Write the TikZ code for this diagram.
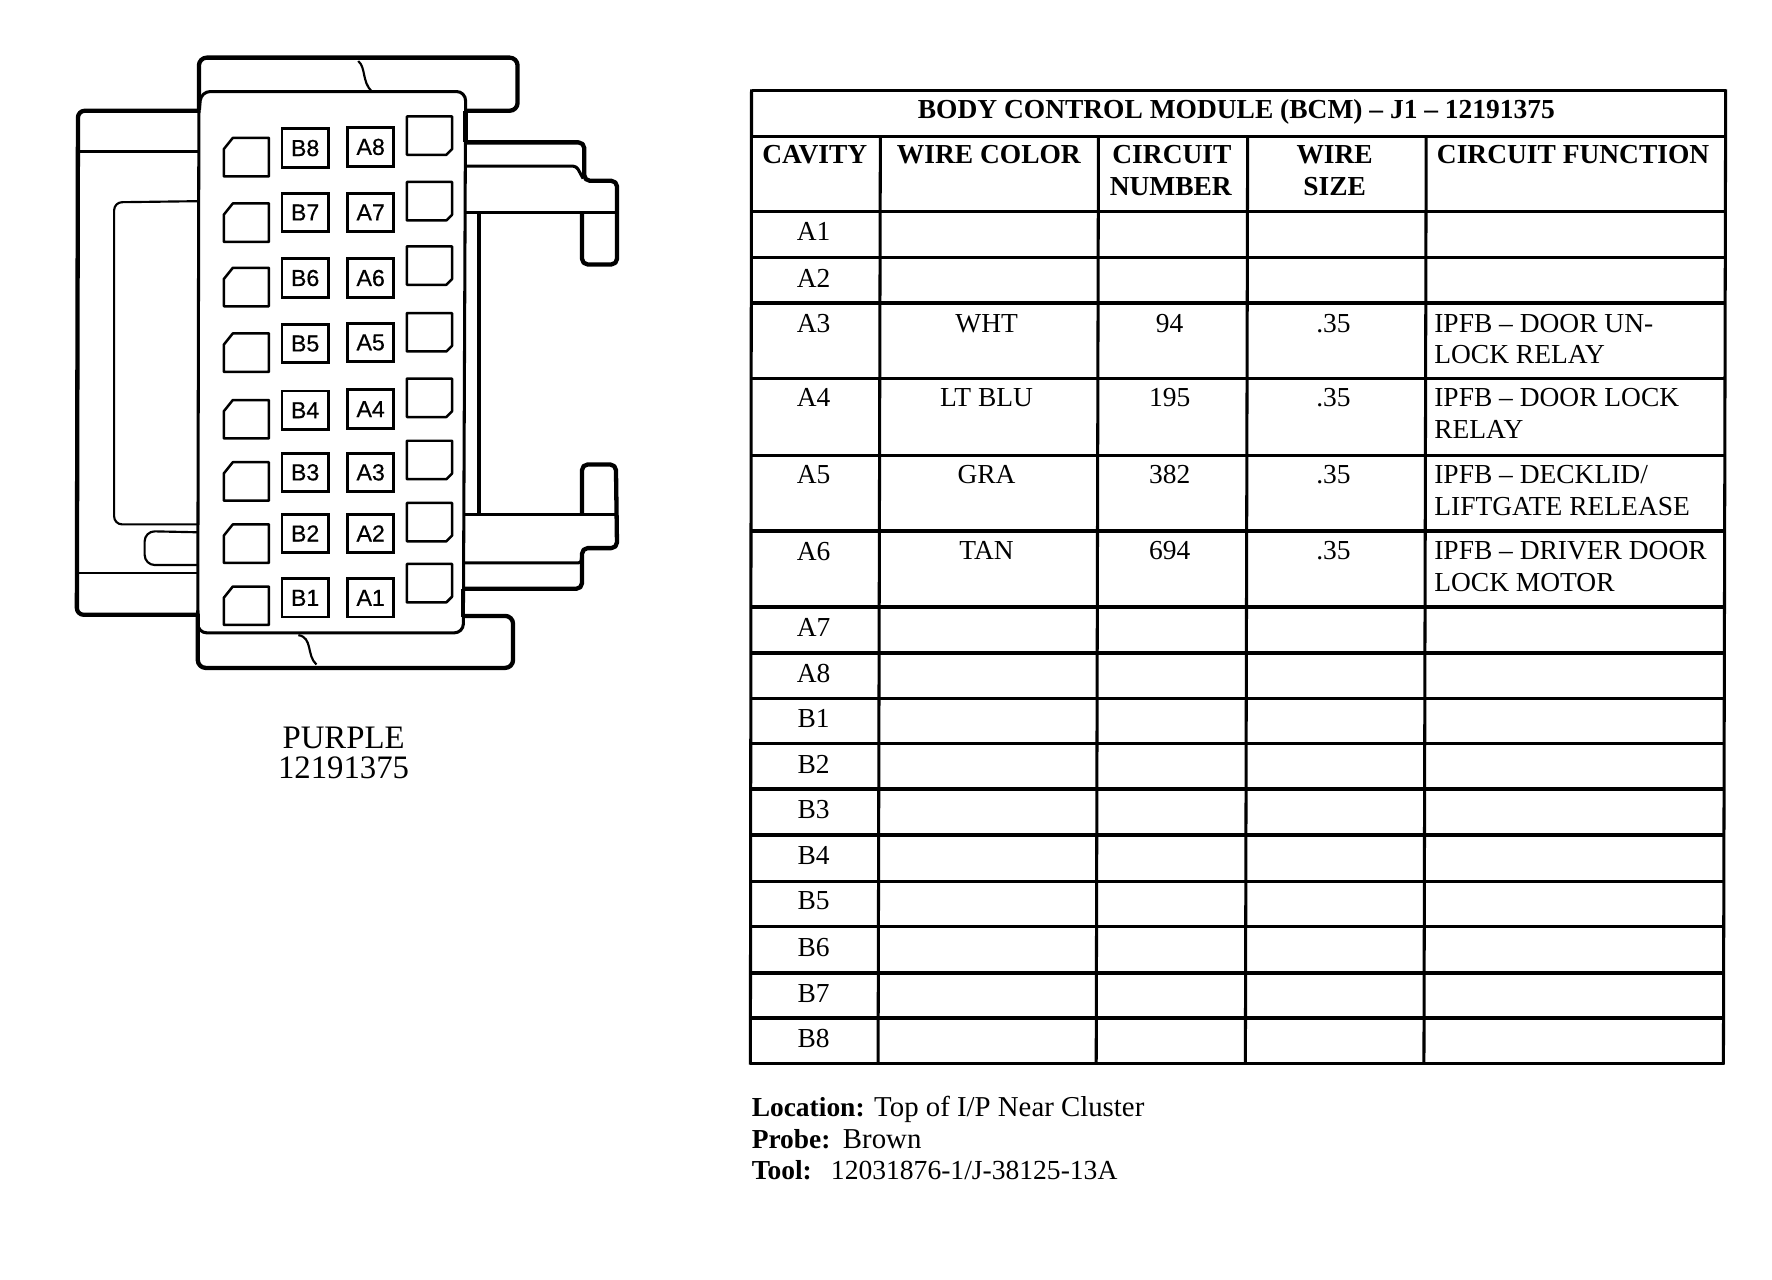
\documentclass[tikz,border=0pt]{standalone}
\usepackage{fontspec}
\setmainfont{Liberation Serif}
\newfontfamily\pinfont[FakeBold=0.5]{Liberation Sans}
\newcommand{\notehead}[1]{{\fontsize{24.3}{28}\selectfont\bfseries #1}}
\tikzset{
	heavy/.style={line width=3.8pt,line join=round},
	medium/.style={line width=2.7pt,line join=round},
	light/.style={line width=1.9pt,line join=round},
	rowline/.style={line width=3.1pt},
	pinbox/.style={draw,line width=2.5pt,inner sep=0pt,minimum width=41pt,minimum height=34pt,font=\pinfont\fontsize{20.5}{21}\selectfont},
	blankpin/.style={line width=2.2pt,line join=round},
	cell/.style={anchor=base,inner sep=0pt,font=\fontsize{24.3}{28}\selectfont},
	headcell/.style={cell,font=\fontsize{24.3}{28}\selectfont\bfseries},
	funccell/.style={cell,anchor=base west},
	notecell/.style={anchor=base west,inner sep=0pt,font=\fontsize{25.5}{28}\selectfont}
}
\begin{document}
\begin{tikzpicture}[x=1pt,y=-1pt]
\useasboundingbox (0,0) rectangle (1568,1132.6);
% connector housing
\draw[heavy,rounded corners=7pt] (176,97)--(176,51)--(458,51)--(458,98)--(412,98);
\draw[light] (317,54) .. controls (324,60) and (320,72) .. (329,81);
\draw[heavy,rounded corners=6pt] (176,98)--(69,98)--(68,544)--(176,544);
\draw[light] (70,134)--(176,134);
\draw[light] (69,507)--(175,507);
\draw[light,rounded corners=7pt] (176,178)--(101,179)--(101,464)--(175,464);
\draw[light,rounded corners=9pt] (175,471)--(128,470)--(128,500)--(175,500);
\draw[heavy] (412,98)--(412,126);
\draw[heavy,rounded corners=5pt] (412,126)--(517,126)--(517,160)--(546,160)--(546,234)--(515,234)--(515,189);
\draw[medium,rounded corners=3pt] (412,147)--(510,147)--(516,158);
\draw[light] (412,188)--(424,188);
\draw[medium] (424,188)--(546,188);
\draw[heavy] (424,187)--(424,456);
\draw[medium] (410,455)--(546,455);
\draw[heavy,rounded corners=5pt] (515,455)--(515,411)--(545,411)--(546,485)--(515,485)--(515,521)--(411,521);
\draw[medium,rounded corners=2pt] (411,498)--(514,498)--(515,490);
\draw[heavy] (410,521)--(410,546);
\draw[heavy,rounded corners=7pt] (409,545)--(454,545)--(454,591)--(175,591)--(175,543);
\draw[light] (264,562) .. controls (277,564) and (271,580) .. (280,588);
\draw[medium,rounded corners=8pt] (176,100)--(178,81)--(412,81)--(410,560)--(175,560)--(175,540);
\draw[medium] (176,98)--(175,545);
% pins
\foreach \n \ya \yb \yl \yr in {8/130/131/139/120,7/188/188/197/178,6/246/246/254/235,5/303/304/312/294,4/362/363/371/352,3/418/418/426/407,2/472/472/481/462,1/529/529/536/516}{
	\node[pinbox,name=pinb\n] at (270,\yb) {B\n};
	\node[pinbox,name=pina\n] at (328,\ya) {A\n};
	\draw[blankpin,shift={(218,\yl)}] (-20,17)--(-20,-7)--(-12,-17)--(20,-17)--(20,17)--cycle;
	\draw[blankpin,shift={(380,\yr)}] (-20,-17)--(20,-17)--(20,12)--(15,17)--(-20,17)--cycle;
};
\node[anchor=base,inner sep=0pt,font=\fontsize{29}{27}\selectfont,align=center,name=partlabel] at (304,689) {PURPLE\\12191375};
% table
\foreach \y in {80,121,187,228,268,335,403,470,537,578,618,658,698,739,780,820,861,901,941}{
	\draw[rowline] ({665-(\y-80)*0.0015},\y)--({1527-(\y-80)*0.002},\y);
};
\draw[medium] (665,79)--(664,942);
\draw[medium] (1527,79)--(1525,942);
\foreach \xa \xb in {779/777,972/970,1104/1102,1262/1260}{
	\draw[medium] (\xa,121)--(\xb,941);
};
\node[headcell,name=title] at (1094,105) {BODY CONTROL MODULE (BCM) -- J1 -- 12191375};
\node[headcell,name=hcavity] at (721,145) {CAVITY};
\node[headcell,name=hcolor] at (875,145) {WIRE COLOR};
\node[headcell,name=hcircuit] at (1037,145) {CIRCUIT};
\node[headcell,name=hnumber] at (1036,173) {NUMBER};
\node[headcell,name=hwire] at (1181,145) {WIRE};
\node[headcell,name=hsize] at (1181,173) {SIZE};
\node[headcell,name=hfunction] at (1392,145) {CIRCUIT FUNCTION};
\foreach \c \y in {A1/213,A2/254,A3/294,A4/360,A5/428,A6/496,A7/563,A8/604,B1/644,B2/684,B3/724,B4/765,B5/805,B6/846,B7/887,B8/927}{
	\node[cell,name=cav\c] at (720,\y) {\c};
};
\foreach \c \w \num \y in {A3/WHT/94/294,A4/LT BLU/195/360,A5/GRA/382/428,A6/TAN/694/495}{
	\node[cell,name=color\c] at (873,\y) {\w};
	\node[cell,name=num\c] at (1035,\y) {\num};
	\node[cell,name=size\c] at (1180,\y) {.35};
};
\node[funccell,name=funcA3a] at (1269,294) {IPFB -- DOOR UN-};
\node[funccell,name=funcA3b] at (1269,322) {LOCK RELAY};
\node[funccell,name=funcA4a] at (1269,360) {IPFB -- DOOR LOCK};
\node[funccell,name=funcA4b] at (1269,388) {RELAY};
\node[funccell,name=funcA5a] at (1269,428) {IPFB -- DECKLID/};
\node[funccell,name=funcA5b] at (1269,456) {LIFTGATE RELEASE};
\node[funccell,name=funcA6a] at (1269,495) {IPFB -- DRIVER DOOR};
\node[funccell,name=funcA6b] at (1269,523) {LOCK MOTOR};
% notes
\node[notecell,name=location] at (665,988) {\notehead{Location:} Top of I/P Near Cluster};
\node[notecell,name=probe] at (665,1016) {\notehead{Probe:}\hspace{11pt}Brown};
\node[notecell,name=tool] at (665,1044) {\notehead{Tool:}\hspace{17pt}{\fontsize{24.4}{28}\selectfont 12031876-1/J-38125-13A}};
\end{tikzpicture}
\end{document}
